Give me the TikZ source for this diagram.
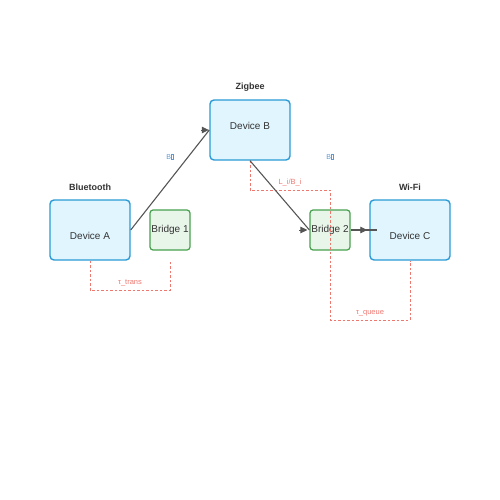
\documentclass[tikz,border=0pt]{standalone}
\usepackage{fontspec}
\setmainfont{Liberation Sans}
\usetikzlibrary{arrows.meta}
\definecolor{devfill}{HTML}{E1F5FE}
\definecolor{devdraw}{HTML}{2A9BD6}
\definecolor{brfill}{HTML}{E8F5E9}
\definecolor{brdraw}{HTML}{46A04E}
\definecolor{txt}{HTML}{333333}
\definecolor{lat}{HTML}{EE7770}
\definecolor{bwl}{HTML}{5B9BD5}
\definecolor{edge}{HTML}{555555}
\newcommand{\missbox}{\tikz[baseline=0pt]\draw[bwl,line width=0.3pt] (0,0) rectangle (2.4pt,5pt);}
\tikzset{
  device/.style={draw=devdraw, fill=devfill, line width=1.4pt, rounded corners=4pt, minimum width=80pt, minimum height=60pt, inner sep=0pt},
  devtext/.style={font=\fontsize{10}{12}\selectfont, text=txt, inner sep=0pt},
  bridgebox/.style={draw=brdraw, fill=brfill, line width=1.2pt, rounded corners=3pt, minimum width=40pt, minimum height=40pt, inner sep=0pt, font=\fontsize{10}{12}\selectfont, text=txt},
  proto/.style={font=\fontsize{9}{11}\selectfont\bfseries, text=txt},
  line/.style={draw=edge, line width=1.1pt},
  tip/.style={draw=edge, fill=edge, line width=0.8pt, -{Triangle[length=7pt,width=6.5pt]}},
  latency/.style={draw=lat, line width=1pt, dash pattern=on 2.5pt off 2pt},
  latlabel/.style={font=\fontsize{7.5}{9}\selectfont, text=lat},
  bwlabel/.style={font=\fontsize{7}{8}\selectfont, text=bwl},
}
\begin{document}
\begin{tikzpicture}[x=1pt,y=-1pt]
\useasboundingbox (0,0) rectangle (500,500);
\node[device] (A) at (90,230) {};
\node[device] (B) at (250,130) {};
\node[device] (C) at (410,230) {};
\node[devtext] (At) at (90,236) {Device A};
\node[devtext] (Bt) at (250,126) {Device B};
\node[devtext] (Ct) at (410,236) {Device C};
\node[bridgebox] (b1) at (170,230) {Bridge 1};
\node[bridgebox] (b2) at (330,230) {Bridge 2};
\node[proto] (tA) at (90,187) {Bluetooth};
\node[proto] (tB) at (250,87) {Zigbee};
\node[proto] (tC) at (410,187) {Wi-Fi};
% latency paths
\coordinate (p1) at (90,290);
\coordinate (p2) at (170,290);
\coordinate (p3) at (170,262);
\draw[latency] (A.south) -- (p1) -- (p2) -- (p3);
\node[latlabel] (l1) at (130,283) {τ\_trans};
\coordinate (q1) at (250,190);
\coordinate (q2) at (330,190);
\coordinate (q3) at (330,320);
\coordinate (q4) at (410,320);
\draw[latency] (B.south) -- (q1) -- (q2) -- (q3) -- (q4) -- (C.south);
\node[latlabel] (l2) at (290,183) {L\_i/B\_i};
\node[latlabel] (l3) at (370,313) {τ\_queue};
% connectors
\draw[line] (A.east) -- (B.west);
\draw[tip] ([xshift=-8pt]B.west) -- ([xshift=-0.5pt]B.west);
\draw[line] (B.south) -- (b2.west);
\draw[tip] ([xshift=-10pt]b2.west) -- ([xshift=-2pt]b2.west);
\coordinate (cend) at (377,230);
\draw[line] (b2.east) -- (cend);
\draw[tip] ([xshift=-10pt]C.west) -- ([xshift=-2pt]C.west);
\node[bwlabel] (w1) at (170,157) {B\missbox};
\node[bwlabel] (w2) at (330,157) {B\missbox};
\end{tikzpicture}
\end{document}
